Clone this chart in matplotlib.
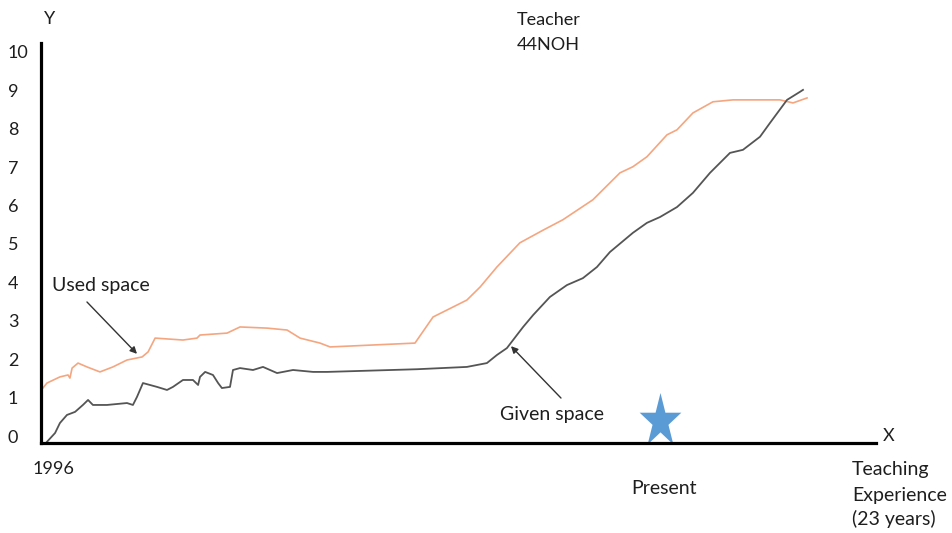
import matplotlib
matplotlib.use("Agg")
import matplotlib.pyplot as plt
import numpy as np
from matplotlib.path import Path

plt.rcParams['font.family'] = ['Lato', 'DejaVu Sans']

# ---------------- data ----------------
# x: years of teaching experience since 1996, y: space (0-10 scale)
used_x = [0.07, 0.22, 0.70, 1.00, 1.07, 1.15, 1.37, 1.70, 2.18, 2.66, 3.18, 3.74, 3.96,
          4.22, 5.25, 5.77, 5.88, 6.88, 7.36, 8.36, 9.10, 9.58, 10.32, 10.69, 13.83,
          14.50, 14.87, 15.75, 16.24, 16.86, 17.71, 18.57, 19.30, 20.41, 21.41, 21.89,
          22.41, 23.15, 23.52, 24.11, 24.85, 25.59, 27.33, 27.81, 28.33]
used_y = [1.25, 1.38, 1.54, 1.59, 1.51, 1.77, 1.90, 1.80, 1.67, 1.80, 1.98, 2.06, 2.19,
          2.55, 2.50, 2.55, 2.63, 2.68, 2.84, 2.81, 2.76, 2.55, 2.42, 2.32, 2.42,
          3.10, 3.23, 3.54, 3.88, 4.40, 5.03, 5.36, 5.63, 6.15, 6.85, 7.01,
          7.27, 7.84, 7.97, 8.41, 8.70, 8.75, 8.75, 8.67, 8.80]

given_x = [0.22, 0.52, 0.70, 0.96, 1.26, 1.55, 1.74, 1.92, 2.44, 3.18, 3.40, 3.55, 3.77,
           4.29, 4.66, 4.88, 5.25, 5.62, 5.81, 5.88, 6.07, 6.36, 6.55, 6.69, 6.99, 7.10,
           7.36, 7.84, 8.21, 8.73, 9.32, 10.06, 10.58, 13.91, 15.75, 16.49, 16.86, 17.23,
           17.60, 17.83, 18.20, 18.82, 19.45, 20.04, 20.56, 21.04, 21.89, 22.41, 22.89,
           23.52, 24.11, 24.74, 25.48, 25.96, 26.59, 26.96, 27.59, 28.07, 28.18]
given_y = [-0.15, 0.08, 0.34, 0.55, 0.63, 0.81, 0.94, 0.81, 0.81, 0.86, 0.81, 1.02, 1.38,
           1.28, 1.20, 1.28, 1.46, 1.46, 1.33, 1.54, 1.67, 1.59, 1.38, 1.25, 1.28, 1.72,
           1.77, 1.72, 1.80, 1.64, 1.72, 1.67, 1.67, 1.74, 1.80, 1.90, 2.11, 2.29,
           2.63, 2.84, 3.15, 3.62, 3.93, 4.11, 4.40, 4.79, 5.29, 5.55, 5.70,
           5.96, 6.33, 6.85, 7.37, 7.45, 7.79, 8.15, 8.75, 8.96, 9.01]

present_x = 22.9
present_y = 0.40
y_ticks = list(range(0, 11))

# ---------------- figure ----------------
W, H = 953, 533
fig = plt.figure(figsize=(W / 100, H / 100), dpi=100)
ax = fig.add_axes([41 / W, (H - 443) / H, (876 - 41) / W, (443 - 43) / H])
ax.set_xlim(0, 30.88)
ax.set_ylim(-0.18, 10.23)

txt = '#1e1e1e'
fs = 13
fs2 = 14

ax.plot(used_x, used_y, color='#F4A680', lw=1.2, solid_joinstyle='round')
ax.plot(given_x, given_y, color='#555555', lw=1.3, solid_joinstyle='round')

# star marker (slightly tall)
ang = np.pi / 2 + np.arange(10) * np.pi / 5
rad = np.where(np.arange(10) % 2 == 0, 1.0, 0.382)
verts = np.column_stack([rad * np.cos(ang), 1.3 * rad * np.sin(ang)])
verts = np.vstack([verts, verts[:1]])
star = Path(verts, closed=True)
ax.plot([present_x], [present_y], marker=star, markersize=41, color='#5B9BD5',
        markeredgewidth=0, linestyle='none', zorder=1)

for s in ['top', 'right']:
    ax.spines[s].set_visible(False)
for s in ['left', 'bottom']:
    ax.spines[s].set_linewidth(2.3)
    ax.spines[s].set_color('black')
    ax.spines[s].set_zorder(5)

ax.set_xticks([])
ax.set_yticks(y_ticks)
ax.set_yticklabels([str(v) for v in y_ticks])
ax.tick_params(axis='y', length=0, pad=23.8, labelsize=fs, labelcolor=txt)
for lab in ax.get_yticklabels():
    lab.set_horizontalalignment('left')

# annotations
ax.annotate('', xy=(3.55, 2.14), xytext=(1.70, 3.49),
            arrowprops=dict(arrowstyle='-|>', color='#333333', lw=1.0,
                            mutation_scale=10, shrinkA=0, shrinkB=0))
ax.text(0.41, 3.93, 'Used space', fontsize=fs2, color=txt, ha='left', va='center')

ax.annotate('', xy=(17.38, 2.34), xytext=(19.23, 0.99),
            arrowprops=dict(arrowstyle='-|>', color='#333333', lw=1.0,
                            mutation_scale=10, shrinkA=0, shrinkB=0))
ax.text(16.97, 0.55, 'Given space', fontsize=fs2, color=txt, ha='left', va='center')

# axis labels and other text (figure pixel coords)
def ftext(x, y, s, size=fs, **kw):
    fig.text(x / W, 1 - y / H, s, fontsize=size, color=txt, **kw)

ftext(50, 19, 'Y', ha='center', va='center')
ftext(889, 436, 'X', ha='center', va='center')
ftext(517, 20, 'Teacher', ha='left', va='center')
ftext(517, 45, '44NOH', ha='left', va='center')
ftext(53, 469, '1996', ha='center', va='center')
ftext(664, 488, 'Present', size=fs2, ha='center', va='center')
ftext(852, 470, 'Teaching', size=fs2, ha='left', va='center')
ftext(852, 495, 'Experience', size=fs2, ha='left', va='center')
ftext(852, 519, '(23 years)', size=fs2, ha='left', va='center')

fig.savefig('out.png', dpi=100)
